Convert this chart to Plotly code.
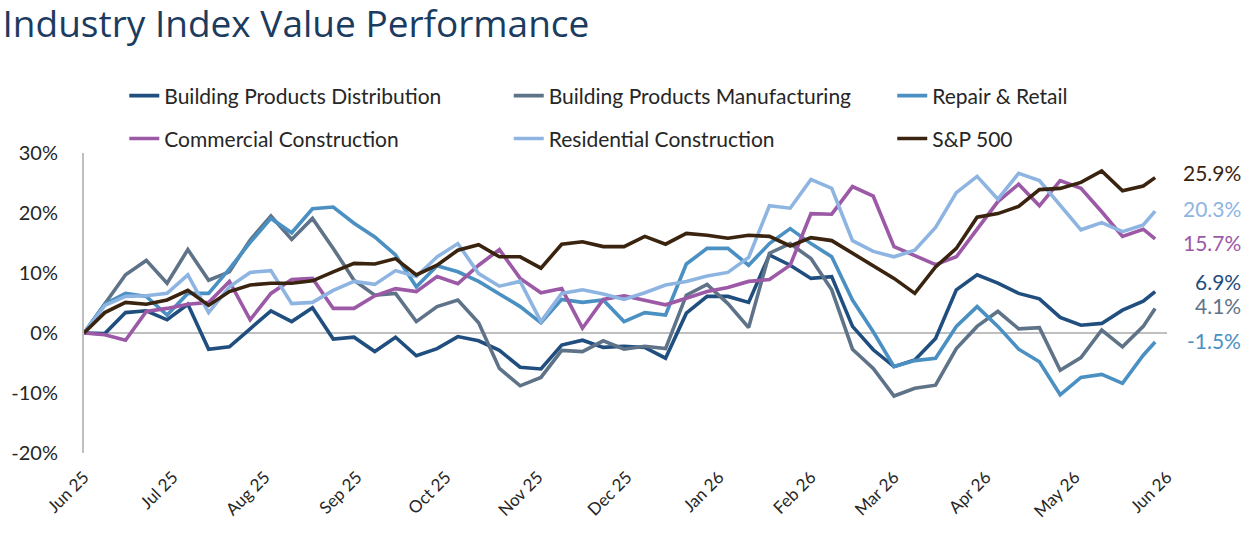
import plotly.graph_objects as go

dates = [
    "2025-06-01", "2025-06-08", "2025-06-15", "2025-06-22", "2025-06-29",
    "2025-07-06", "2025-07-13", "2025-07-20", "2025-07-27",
    "2025-08-03", "2025-08-10", "2025-08-17", "2025-08-24", "2025-08-31",
    "2025-09-07", "2025-09-14", "2025-09-21", "2025-09-28",
    "2025-10-05", "2025-10-12", "2025-10-19", "2025-10-26",
    "2025-11-02", "2025-11-09", "2025-11-16", "2025-11-23", "2025-11-30",
    "2025-12-07", "2025-12-14", "2025-12-21", "2025-12-28",
    "2026-01-04", "2026-01-11", "2026-01-18", "2026-01-25",
    "2026-02-01", "2026-02-08", "2026-02-15", "2026-02-22",
    "2026-03-01", "2026-03-08", "2026-03-15", "2026-03-22", "2026-03-29",
    "2026-04-05", "2026-04-12", "2026-04-19", "2026-04-26",
    "2026-05-03", "2026-05-10", "2026-05-17", "2026-05-24", "2026-05-28",
]

bp_distribution = [0, -0.1, 3.4, 3.7, 2.2, 4.8, -2.7, -2.3, 0.7, 3.7, 1.9, 4.2, -1.0, -0.7,
                   -3.1, -0.7, -3.8, -2.6, -0.6, -1.3, -2.9, -5.7, -6.0, -2.0, -1.2, -2.4,
                   -2.2, -2.4, -4.2, 3.3, 6.1, 6.1, 5.1, 13.0, 11.3, 9.1, 9.4, 1.1, -2.8,
                   -5.6, -4.5, -0.9, 7.2, 9.7, 8.3, 6.6, 5.7, 2.6, 1.3, 1.6, 3.8, 5.3, 6.9]
bp_manufacturing = [0, 4.9, 9.7, 12.1, 8.3, 13.9, 8.8, 10.2, 15.5, 19.5, 15.6, 19.1, 14.1, 8.8,
                    6.3, 6.6, 1.9, 4.4, 5.5, 1.7, -5.9, -8.8, -7.4, -2.9, -3.1, -1.3, -2.7,
                    -2.2, -2.6, 6.3, 8.1, 4.9, 0.9, 13.3, 14.9, 12.4, 7.2, -2.7, -5.9, -10.5,
                    -9.2, -8.7, -2.6, 1.1, 3.6, 0.7, 0.9, -6.2, -4.1, 0.5, -2.3, 1.1, 4.1]
repair_retail = [0, 4.8, 6.6, 6.1, 3.0, 6.6, 6.6, 10.7, 15.1, 19.1, 16.7, 20.7, 21.0, 18.3,
                 16.0, 13.0, 7.7, 11.2, 10.2, 8.6, 6.5, 4.4, 1.7, 5.6, 5.1, 5.5, 1.9, 3.4,
                 3.0, 11.5, 14.1, 14.1, 11.3, 14.9, 17.4, 14.9, 12.7, 5.5, 0.2, -5.6, -4.6,
                 -4.2, 1.1, 4.4, 1.1, -2.7, -4.8, -10.3, -7.4, -6.9, -8.4, -3.7, -1.5]
commercial = [0, -0.3, -1.2, 3.6, 4.1, 4.8, 5.1, 8.6, 2.2, 6.6, 8.9, 9.1, 4.1, 4.1, 6.2, 7.4,
              6.9, 9.4, 8.2, 11.3, 13.9, 9.1, 6.7, 7.4, 0.8, 5.6, 6.2, 5.5, 4.7, 5.8, 6.9,
              7.6, 8.6, 8.9, 11.3, 19.9, 19.8, 24.4, 22.8, 14.4, 12.9, 11.4, 12.7, 17.4,
              21.9, 24.8, 21.2, 25.4, 24.1, 20.2, 16.1, 17.3, 15.7]
residential = [0, 4.6, 6.1, 6.2, 6.6, 9.7, 3.4, 7.7, 10.1, 10.4, 4.9, 5.1, 7.1, 8.6, 8.1, 10.4,
               9.4, 12.7, 14.9, 9.9, 7.8, 8.6, 1.9, 6.6, 7.2, 6.5, 5.6, 6.7, 8.0, 8.6, 9.5,
               10.1, 12.6, 21.2, 20.8, 25.6, 24.1, 15.4, 13.6, 12.7, 13.8, 17.6, 23.4, 26.1,
               22.3, 26.6, 25.4, 21.3, 17.2, 18.4, 16.9, 18.0, 20.3]
sp500 = [0, 3.4, 5.1, 4.8, 5.5, 7.1, 4.6, 6.9, 8.0, 8.3, 8.3, 8.7, 10.2, 11.6, 11.5, 12.4, 9.7,
         11.3, 13.8, 14.7, 12.7, 12.7, 10.8, 14.8, 15.2, 14.4, 14.4, 16.1, 14.8, 16.6, 16.3,
         15.8, 16.3, 16.1, 14.5, 15.9, 15.4, 13.3, 11.3, 9.1, 6.6, 11.0, 14.1, 19.3, 19.9,
         21.1, 23.9, 24.1, 25.1, 27.0, 23.7, 24.5, 25.9]

series_names = ["Building Products Distribution", "Building Products Manufacturing",
                "Repair & Retail", "Commercial Construction", "Residential Construction",
                "S&P 500"]
series_values = [bp_distribution, bp_manufacturing, repair_retail, commercial,
                 residential, sp500]
series_colors = ["#1F4E7F", "#5F7388", "#4A90C2", "#9B59A6", "#8EB5E2", "#3A2410"]

tick_dates = ["2025-06-01", "2025-07-01", "2025-08-01", "2025-09-01", "2025-10-01",
              "2025-11-01", "2025-12-01", "2026-01-01", "2026-02-01", "2026-03-01",
              "2026-04-01", "2026-05-01", "2026-06-01"]
y_ticks = [-20, -10, 0, 10, 20, 30]
y_ticktext = [f"{v}%" for v in y_ticks]

# label placement (y in axis units) for end-of-line value labels, to avoid overlap
label_y = [8.6, 4.6, -1.3, 15.1, 20.7, 26.7]

# legend grid: 3 columns x 2 rows (paper coords)
legend_x = [0.0372, 0.3922, 0.7463, 0.0372, 0.3922, 0.7463]
legend_y = [1.19, 1.19, 1.19, 1.047, 1.047, 1.047]

fig = go.Figure()
legend_layout = {}
for i, (name, vals, col) in enumerate(zip(series_names, series_values, series_colors)):
    lg = "legend" if i == 0 else f"legend{i + 1}"
    fig.add_trace(go.Scatter(x=dates, y=vals, mode="lines", name=name,
                             line=dict(color=col, width=3.6), legend=lg))
    legend_layout[lg] = dict(x=legend_x[i], y=legend_y[i], xanchor="left",
                             yanchor="middle", orientation="h",
                             font=dict(family="Lato", size=21, color="#262626"),
                             bgcolor="rgba(0,0,0,0)")

for vals, col, ly in zip(series_values, series_colors, label_y):
    fig.add_annotation(xref="paper", yref="y", x=1.0702, y=ly, xanchor="right",
                       yanchor="middle", text=f"{vals[-1]:.1f}%", showarrow=False,
                       font=dict(family="Lato", size=21, color=col))

fig.update_layout(
    width=1246, height=536,
    margin=dict(l=84, r=79, t=153, b=83),
    paper_bgcolor="white", plot_bgcolor="white",
    title=dict(text="Industry Index Value Performance", x=0.002, xanchor="left",
               xref="container", y=0.955, yanchor="middle", yref="container",
               font=dict(family="Open Sans", size=37, color="#1B3B5F")),
    xaxis=dict(type="date", range=["2025-06-01", "2026-06-01"], tickvals=tick_dates,
               tickformat="%b %y", tickangle=-45, showgrid=False, showline=False,
               zeroline=False, ticks="", ticklabelstandoff=10,
               tickfont=dict(family="Lato", size=17, color="#262626")),
    yaxis=dict(range=[-20, 30], tickvals=y_ticks, ticktext=y_ticktext, showgrid=False,
               zeroline=True, zerolinecolor="#BFBFBF", zerolinewidth=2,
               showline=True, linecolor="#BFBFBF", linewidth=2, ticks="",
               ticklabelstandoff=20,
               tickfont=dict(family="Lato", size=20, color="#262626")),
    showlegend=True,
    **legend_layout,
)

fig.write_html("out.html")
